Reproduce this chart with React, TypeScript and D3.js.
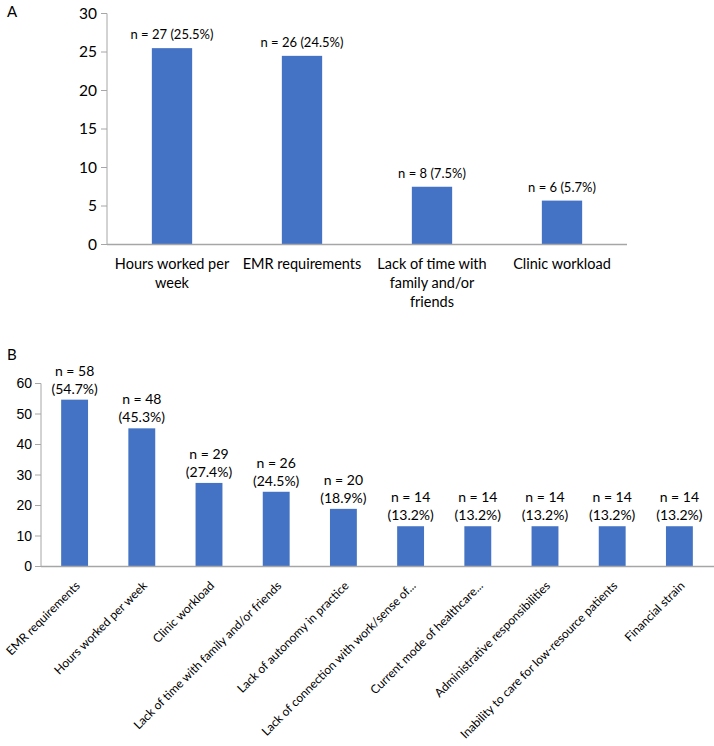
import React from "react";
import * as d3 from "d3";

const catsA = ["Hours worked per week", "EMR requirements", "Lack of time with family and/or friends", "Clinic workload"];
const linesA = [["Hours worked per", "week"], ["EMR requirements"], ["Lack of time with", "family and/or", "friends"], ["Clinic workload"]];
const valsA = [25.5, 24.5, 7.5, 5.7];
const nA = [27, 26, 8, 6];
const ticksA = [0, 5, 10, 15, 20, 25, 30];

const catsB = [
  "EMR requirements",
  "Hours worked per week",
  "Clinic workload",
  "Lack of time with family and/or friends",
  "Lack of autonomy in practice",
  "Lack of connection with work/sense of...",
  "Current mode of healthcare...",
  "Administrative responsibilities",
  "Inability to care for low-resource patients",
  "Financial strain",
];
const valsB = [54.7, 45.3, 27.4, 24.5, 18.9, 13.2, 13.2, 13.2, 13.2, 13.2];
const nB = [58, 48, 29, 26, 20, 14, 14, 14, 14, 14];
const ticksB = [0, 10, 20, 30, 40, 50, 60];

const BAR = "#4472C4";
const AXIS = "#A6A6A6";
const FONT = "Lato, 'Open Sans', sans-serif";

export default function App() {
  // Panel A
  const xA = d3.scaleBand().domain(catsA).range([107, 627]).paddingInner(0.69).paddingOuter(0.345);
  const yA = d3.scaleLinear().domain([0, 30]).range([244.5, 13.5]);
  // Panel B
  const xB = d3.scaleBand().domain(catsB).range([41, 713]).paddingInner(0.6).paddingOuter(0.3);
  const yB = d3.scaleLinear().domain([0, 60]).range([566.5, 383.5]);

  return (
    <svg width={714} height={746} style={{ position: "absolute", left: 0, top: 0, background: "#fff" }} fontFamily={FONT}>
      {/* Panel A */}
      <text x={7} y={17} fontSize={15} fill="#000">A</text>
      {ticksA.map((t) => (
        <g key={"ta" + t}>
          <line x1={101} x2={107} y1={yA(t)} y2={yA(t)} stroke={AXIS} />
          <text x={97} y={yA(t)} dy="0.35em" textAnchor="end" fontSize={15.5} fill="#000">{t}</text>
        </g>
      ))}
      <line x1={107} x2={107} y1={yA(30)} y2={yA(0)} stroke={AXIS} />
      {catsA.map((c, i) => (
        <g key={c}>
          <rect x={xA(c)} y={yA(valsA[i])} width={xA.bandwidth()} height={yA(0) - yA(valsA[i])} fill={BAR} />
          <text x={xA(c)! + xA.bandwidth() / 2} y={yA(valsA[i]) - 9} textAnchor="middle" fontSize={13} fill="#000">
            {`n = ${nA[i]} (${valsA[i]}%)`}
          </text>
          {linesA[i].map((l, j) => (
            <text key={j} x={xA(c)! + xA.bandwidth() / 2} y={269 + j * 19} textAnchor="middle" fontSize={14.5} fill="#000">{l}</text>
          ))}
        </g>
      ))}
      <line x1={107} x2={627} y1={yA(0)} y2={yA(0)} stroke={AXIS} strokeWidth={1.5} />

      {/* Panel B */}
      <text x={7} y={360} fontSize={15} fill="#000">B</text>
      {ticksB.map((t) => (
        <g key={"tb" + t}>
          <line x1={35} x2={41} y1={yB(t)} y2={yB(t)} stroke={AXIS} />
          <text x={32} y={yB(t)} dy="0.35em" textAnchor="end" fontSize={14} fontFamily="'Liberation Sans', Arial, sans-serif" fill="#000">{t}</text>
        </g>
      ))}
      <line x1={41} x2={41} y1={yB(60)} y2={yB(0)} stroke={AXIS} />
      {catsB.map((c, i) => {
        const cx = xB(c)! + xB.bandwidth() / 2;
        const top = yB(valsB[i]);
        return (
          <g key={c}>
            <rect x={xB(c)} y={top} width={xB.bandwidth()} height={yB(0) - top} fill={BAR} />
            <text x={cx} y={top - 24} textAnchor="middle" fontSize={14} fill="#000">{`n = ${nB[i]}`}</text>
            <text x={cx} y={top - 6} textAnchor="middle" fontSize={14} fill="#000">{`(${valsB[i]}%)`}</text>
            <text
              transform={`translate(${cx + 6},${yB(0) + 20}) rotate(-45)`}
              textAnchor="end"
              fontSize={12}
              fill="#000"
            >{c}</text>
          </g>
        );
      })}
      <line x1={41} x2={714} y1={yB(0)} y2={yB(0)} stroke={AXIS} strokeWidth={1.5} />
    </svg>
  );
}
